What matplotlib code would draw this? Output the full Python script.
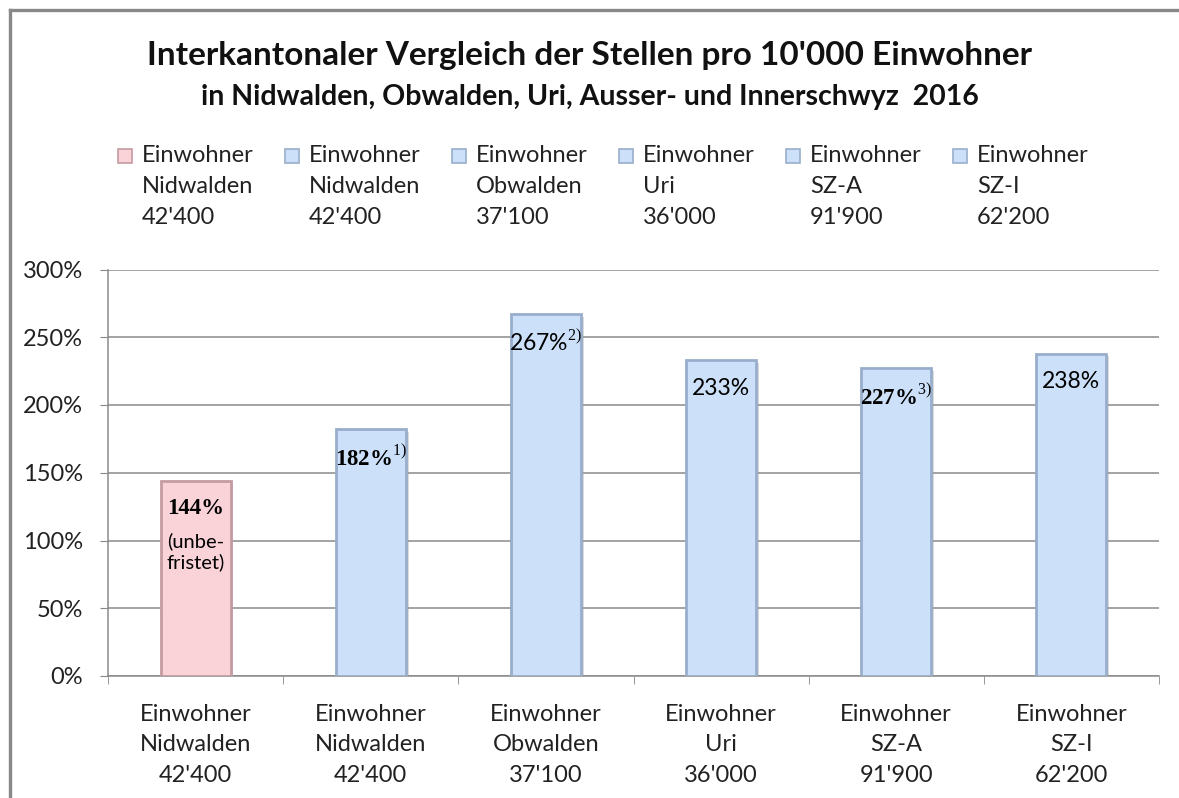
import matplotlib
matplotlib.use("Agg")
import matplotlib.pyplot as plt
from matplotlib.patches import Rectangle
from matplotlib.lines import Line2D
import matplotlib.patheffects as pe

# data
regions = ["Nidwalden", "Nidwalden", "Obwalden", "Uri", "SZ-A", "SZ-I"]
population = ["42'400", "42'400", "37'100", "36'000", "91'900", "62'200"]
values = [144, 182, 267, 233, 227, 238]
footnotes = ["", "1)", "2)", "", "3)", ""]
serif_bold = [True, True, False, False, True, False]
yticks = [0, 50, 100, 150, 200, 250, 300]

pink, pink_edge = "#F9D3D8", "#C49BA2"
blue, blue_edge = "#CCE1F9", "#98AECB"
face = [pink] + [blue] * 5
edge = [pink_edge] + [blue_edge] * 5

labels = ["Einwohner\n%s\n%s" % (r, p) for r, p in zip(regions, population)]

plt.rcParams["font.family"] = ["Lato", "DejaVu Sans"]
plt.rcParams["mathtext.fontset"] = "custom"
plt.rcParams["mathtext.rm"] = "Liberation Serif"

W, H = 1179, 798
fig = plt.figure(figsize=(W / 100, H / 100), dpi=100)
ax = fig.add_axes([108 / W, 1 - 676 / H, (1159 - 108) / W, (676 - 269.5) / H])

x = list(range(len(values)))
bars = ax.bar(x, values, width=0.4, color=face, edgecolor=edge, linewidth=2.0, zorder=3)
for b in bars:
    b.set_path_effects([pe.SimplePatchShadow(offset=(2, -2), shadow_rgbFace="#999999", alpha=0.35),
                        pe.Normal()])

ax.set_xlim(-0.5, len(values) - 0.5)
ax.set_ylim(0, 300)
ax.set_yticks(yticks)
ax.set_yticklabels(["%d%%" % t for t in yticks], fontsize=17, color="#222222")
ax.set_xticks(x)
ax.set_xticklabels(labels, fontsize=17, color="#222222", linespacing=1.56)
ax.set_xticks([i - 0.5 for i in range(len(values) + 1)], minor=True)
ax.tick_params(axis="x", which="major", length=0, pad=20)
ax.tick_params(axis="x", which="minor", length=6, color="#888888", direction="out")
ax.tick_params(axis="y", length=6, color="#888888", pad=12)
ax.yaxis.grid(True, color="#8a8a8a", linewidth=1.1, zorder=0)
ax.set_axisbelow(True)
for s in ["top", "right"]:
    ax.spines[s].set_visible(False)
for s in ["left", "bottom"]:
    ax.spines[s].set_color("#8a8a8a")
    ax.spines[s].set_linewidth(1.1)

# value labels inside bar tops
for i, v in enumerate(values):
    txt = "%d%%" % v
    if footnotes[i]:
        txt += r"$^{\mathrm{%s}}$" % footnotes[i]
    if serif_bold[i]:
        kw = dict(family="Liberation Serif", fontweight="bold")
    else:
        kw = dict(family=["Lato", "DejaVu Sans"], fontweight="normal")
    ax.annotate(txt, (i, v), xytext=(0, -20), textcoords="offset points",
                ha="center", va="center", fontsize=16.5, zorder=5, **kw)
ax.annotate("(unbe-\nfristet)", (0, values[0]), xytext=(0, -51), textcoords="offset points",
            ha="center", va="center", fontsize=14.5, linespacing=1.15, zorder=5)

# titles
fig.text(0.5, 1 - 55 / H, "Interkantonaler Vergleich der Stellen pro 10'000 Einwohner",
         ha="center", va="center", fontsize=24, fontweight="bold", color="#111111")
fig.text(0.5, 1 - 97 / H, "in Nidwalden, Obwalden, Uri, Ausser- und Innerschwyz  2016",
         ha="center", va="center", fontsize=20.5, fontweight="bold", color="#111111")

# legend
for i, lab in enumerate(labels):
    lx = (118 + 167 * i) / W
    fig.patches.append(Rectangle((lx, 1 - 163 / H), 14 / W, 14 / H, transform=fig.transFigure,
                                 facecolor=face[i], edgecolor=edge[i], linewidth=1.2))
    fig.text(lx + 24 / W, 1 - 145 / H, lab, ha="left", va="top", fontsize=17,
             color="#222222", linespacing=1.58)

# outer frame
fig.lines.append(Line2D([10 / W, 1], [1 - 10 / H, 1 - 10 / H], transform=fig.transFigure,
                        color="#888888", linewidth=2.4))
fig.lines.append(Line2D([10 / W, 10 / W], [0, 1 - 10 / H], transform=fig.transFigure,
                        color="#888888", linewidth=2.4))

fig.savefig("out.png", dpi=100)
